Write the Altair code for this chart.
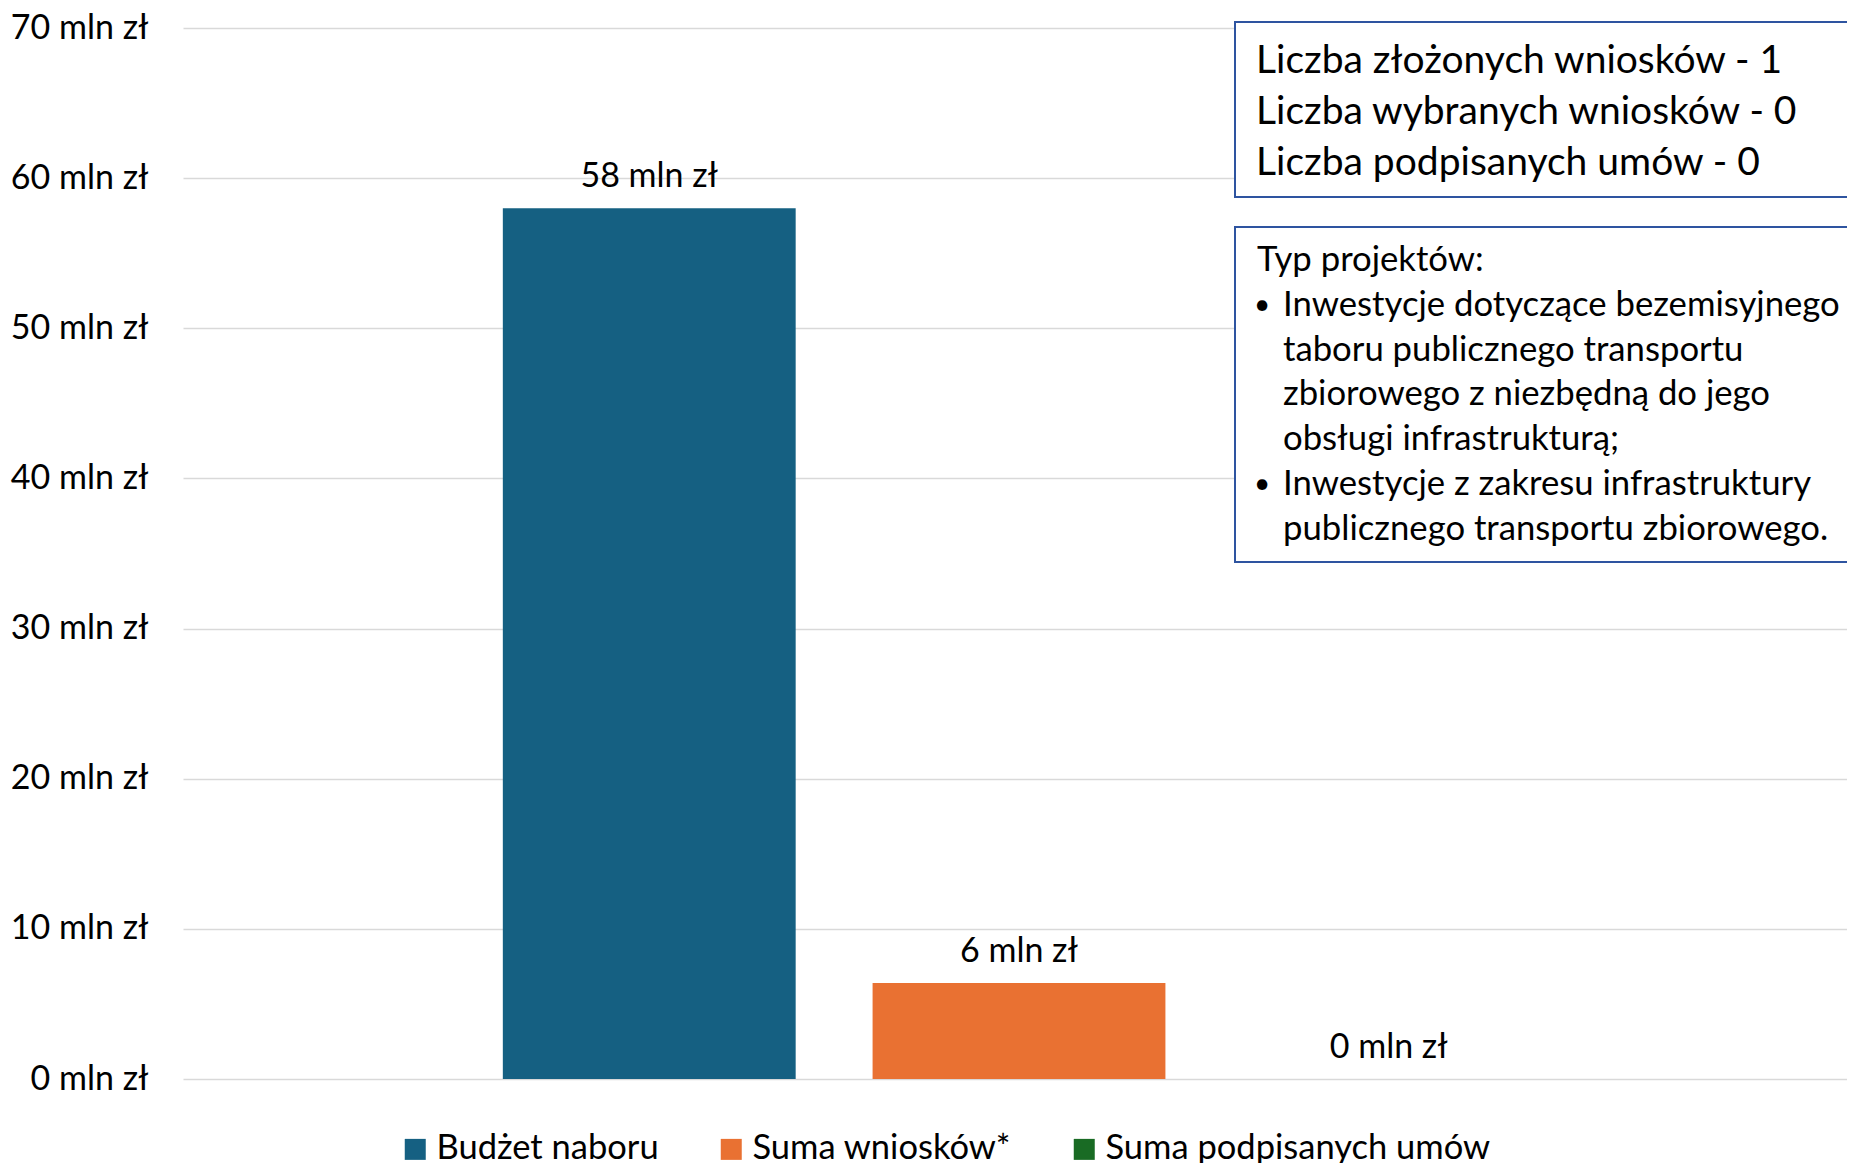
import altair as alt
import pandas as pd

# ---- data -------------------------------------------------------------
series = ["Budżet naboru", "Suma wniosków*", "Suma podpisanych umów"]
values = [58.0, 6.4, 0.0]
value_labels = ["58 mln zł", "6 mln zł", "0 mln zł"]
colors = ["#156082", "#E97132", "#196B24"]
y_ticks = [0, 10, 20, 30, 40, 50, 60, 70]

box1_lines = [
    "Liczba złożonych wniosków - 1",
    "Liczba wybranych wniosków - 0",
    "Liczba podpisanych umów - 0",
]
box2_title = "Typ projektów:"
box2_items = [
    ["Inwestycje dotyczące bezemisyjnego",
     "taboru publicznego transportu",
     "zbiorowego z niezbędną do jego",
     "obsługi infrastrukturą;"],
    ["Inwestycje z zakresu infrastruktury",
     "publicznego transportu zbiorowego."],
]

FONT = "Lato"
TXT = "#000000"
BOX = "#2E54A0"

bars_df = pd.DataFrame({"series": series, "value": values, "label": value_labels})

x_enc = alt.X(
    "series:N",
    sort=series,
    scale=alt.Scale(domain=series, range=[0, 1672], paddingInner=0.208, paddingOuter=0.865),
    axis=None,
)
y_enc = alt.Y(
    "value:Q",
    scale=alt.Scale(domain=[0, 70], nice=False, zero=True),
    axis=alt.Axis(
        values=y_ticks,
        labelExpr="datum.value + ' mln zł'",
        title=None,
        domain=False,
        ticks=False,
        tickSize=0,
        grid=True,
        gridColor="#D9D9D9",
        gridWidth=1.5,
        labelFont=FONT,
        labelFontSize=34,
        labelColor=TXT,
        labelPadding=35,
    ),
)

bars = alt.Chart(bars_df).mark_bar().encode(
    x=x_enc,
    y=y_enc,
    color=alt.Color(
        "series:N",
        sort=series,
        scale=alt.Scale(domain=series, range=colors),
        legend=alt.Legend(
            orient="none",
            legendX=215,
            legendY=1104,
            direction="horizontal",
            title=None,
            symbolType="square",
            symbolSize=441,
            symbolStrokeWidth=0,
            labelFont=FONT,
            labelFontSize=34.5,
            labelColor=TXT,
            labelOffset=4,
            columnPadding=55,
            labelLimit=800,
            padding=0,
        ),
    ),
)

labels = alt.Chart(bars_df).mark_text(
    baseline="alphabetic", dy=-21, font=FONT, fontSize=34, color=TXT
).encode(x=x_enc, y=alt.Y("value:Q"), text="label:N")

layers = [bars, labels]

one = pd.DataFrame({"k": [0]})

# annotation boxes (pixel positions relative to plot area)
for (bx0, bx1, by0, by1) in [(1052, 1690, -6, 169), (1052, 1690, 199, 534)]:
    layers.append(
        alt.Chart(one).mark_rect(fill="white", stroke=BOX, strokeWidth=2).encode(
            x=alt.value(bx0), x2=alt.value(bx1), y=alt.value(by0), y2=alt.value(by1)
        )
    )

def line(txt, x, y, size):
    return alt.Chart(one).mark_text(
        text=txt, align="left", baseline="middle", font=FONT, fontSize=size, color=TXT
    ).encode(x=alt.value(x), y=alt.value(y))

for i, t in enumerate(box1_lines):
    layers.append(line(t, 1073, 32.5 + 51 * i, 39))

step2 = 44.8
layers.append(line(box2_title, 1074, 233, 34.7))
row = 1
for item in box2_items:
    layers.append(line("•", 1071, 233 + step2 * row, 28))
    for t in item:
        layers.append(line(t, 1100, 233 + step2 * row, 34.7))
        row += 1

chart = (
    alt.layer(*layers)
    .properties(
        width=1664,
        height=1051,
        padding={"left": 175, "top": 20, "right": 0, "bottom": 84},
        autosize=alt.AutoSizeParams(type="none"),
        background="white",
    )
    .configure_view(stroke=None)
)

chart.save("out.html", embed_options={"renderer": "svg", "actions": False})
